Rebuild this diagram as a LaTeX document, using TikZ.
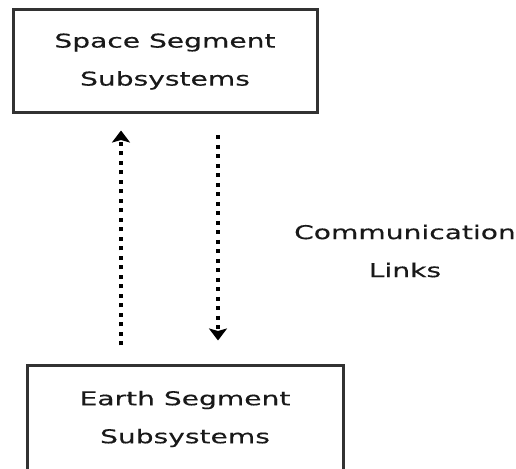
\documentclass[tikz,border=0pt]{standalone}
\usepackage{fontspec}
\setmainfont{DejaVu Sans}[FakeStretch=1.48,FakeBold=0.4]
\usetikzlibrary{arrows.meta,positioning,calc}
\definecolor{boxline}{RGB}{50,50,50}
\definecolor{inkcol}{RGB}{25,25,25}

\begin{document}
\begin{tikzpicture}[x=1pt,y=1pt,>=Stealth,
    segbox/.style={draw=boxline,line width=3pt,align=center,text=inkcol,
      font=\fontsize{19}{38}\selectfont,inner sep=0pt},
    link/.style={line width=3.2pt,dash pattern=on 4pt off 5.5pt,
      -{Stealth[width=18pt,length=12pt,inset=2.5pt]}}]
  \clip (0,0) rectangle (516,468);
  \useasboundingbox (0,0) rectangle (516,468);

  % the two segments
  \node[segbox,minimum width=304pt,minimum height=103pt] (space) at (165,406.5)
    {Space Segment\\Subsystems};
  \node[segbox,minimum width=316pt,minimum height=106pt] (earth) at (185,49)
    {Earth Segment\\Subsystems};

  % up- and downlink
  \draw[link] ([shift={(-64,19)}]earth.north) -- ([shift={(-44,-16)}]space.south);
  \draw[link] ([shift={(53,-21)}]space.south) -- ([shift={(33,24)}]earth.north);

  \node[align=center,text=inkcol,font=\fontsize{19}{38}\selectfont] (links) at (405,217)
    {Communication\\Links};
\end{tikzpicture}
\end{document}
